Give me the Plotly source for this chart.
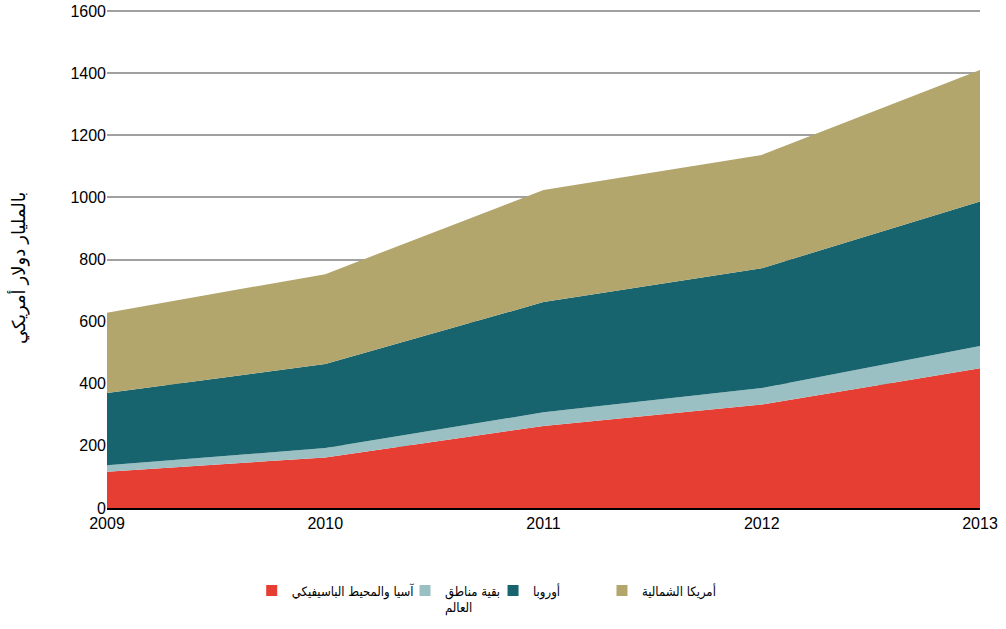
import plotly.graph_objects as go

years = [2009, 2010, 2011, 2012, 2013]
asia_pacific = [117, 163, 264, 333, 450]
rest_of_world = [21, 30, 44, 53, 72]
europe = [232, 271, 355, 386, 465]
north_america = [259, 289, 361, 365, 423]

names = ["آسيا والمحيط الباسيفيكي", "بقية مناطق<br>العالم", "أوروبا", "أمريكا الشمالية"]
series = [asia_pacific, rest_of_world, europe, north_america]
colors = ["#E63E33", "#9BC0C4", "#17646E", "#B2A66C"]
legend_ids = ["legend", "legend2", "legend3", "legend4"]
legend_x = [0.2502, 0.4026, 0.4901, 0.5984]

fig = go.Figure()
for name, vals, col in zip(names, series, colors):
    fig.add_trace(go.Scatter(
        x=years, y=vals, stackgroup="one", mode="lines",
        line=dict(width=0, color=col), fillcolor=col,
        showlegend=False, hoverinfo="skip"))
for name, col, lid in zip(names, colors, legend_ids):
    fig.add_trace(go.Scatter(
        x=[None], y=[None], mode="markers", name=name, legend=lid,
        marker=dict(symbol="square", size=11, color=col)))

legend_style = dict(orientation="h", xref="container", yref="container",
                    xanchor="left", y=0.085, yanchor="top", valign="top",
                    font=dict(size=13, family="DejaVu Sans Condensed, DejaVu Sans"),
                    itemwidth=30, bgcolor="rgba(0,0,0,0)")

fig.update_layout(
    width=1006, height=629,
    margin=dict(l=107, r=26, t=8, b=121),
    paper_bgcolor="white", plot_bgcolor="white",
    font=dict(family="Liberation Sans, Arial, DejaVu Sans", color="#000000", size=16),
    xaxis=dict(range=[2009, 2013], tickvals=years, ticktext=[str(y) for y in years],
               showgrid=False, showline=True, linecolor="#000000", linewidth=2,
               ticks="", zeroline=False, tickfont=dict(size=16), automargin=False),
    yaxis=dict(range=[0, 1610], tickvals=[0, 200, 400, 600, 800, 1000, 1200, 1400, 1600],
               showgrid=True, gridcolor="#A0A0A0",
               gridwidth=2, zeroline=False, showline=False, ticks="",
               tickfont=dict(size=16), automargin=False),
    legend=dict(x=legend_x[0], **legend_style),
    legend2=dict(x=legend_x[1], **legend_style),
    legend3=dict(x=legend_x[2], **legend_style),
    legend4=dict(x=legend_x[3], **legend_style),
    annotations=[dict(text="بالمليار دولار أمريكي", textangle=-90, xref="paper", yref="paper",
                      x=-0.102, y=0.48, xanchor="center", yanchor="middle",
                      showarrow=False, font=dict(size=18))],
)

fig.write_html("out.html", config={"displayModeBar": False},
               post_script="document.body.style.margin='0';")
